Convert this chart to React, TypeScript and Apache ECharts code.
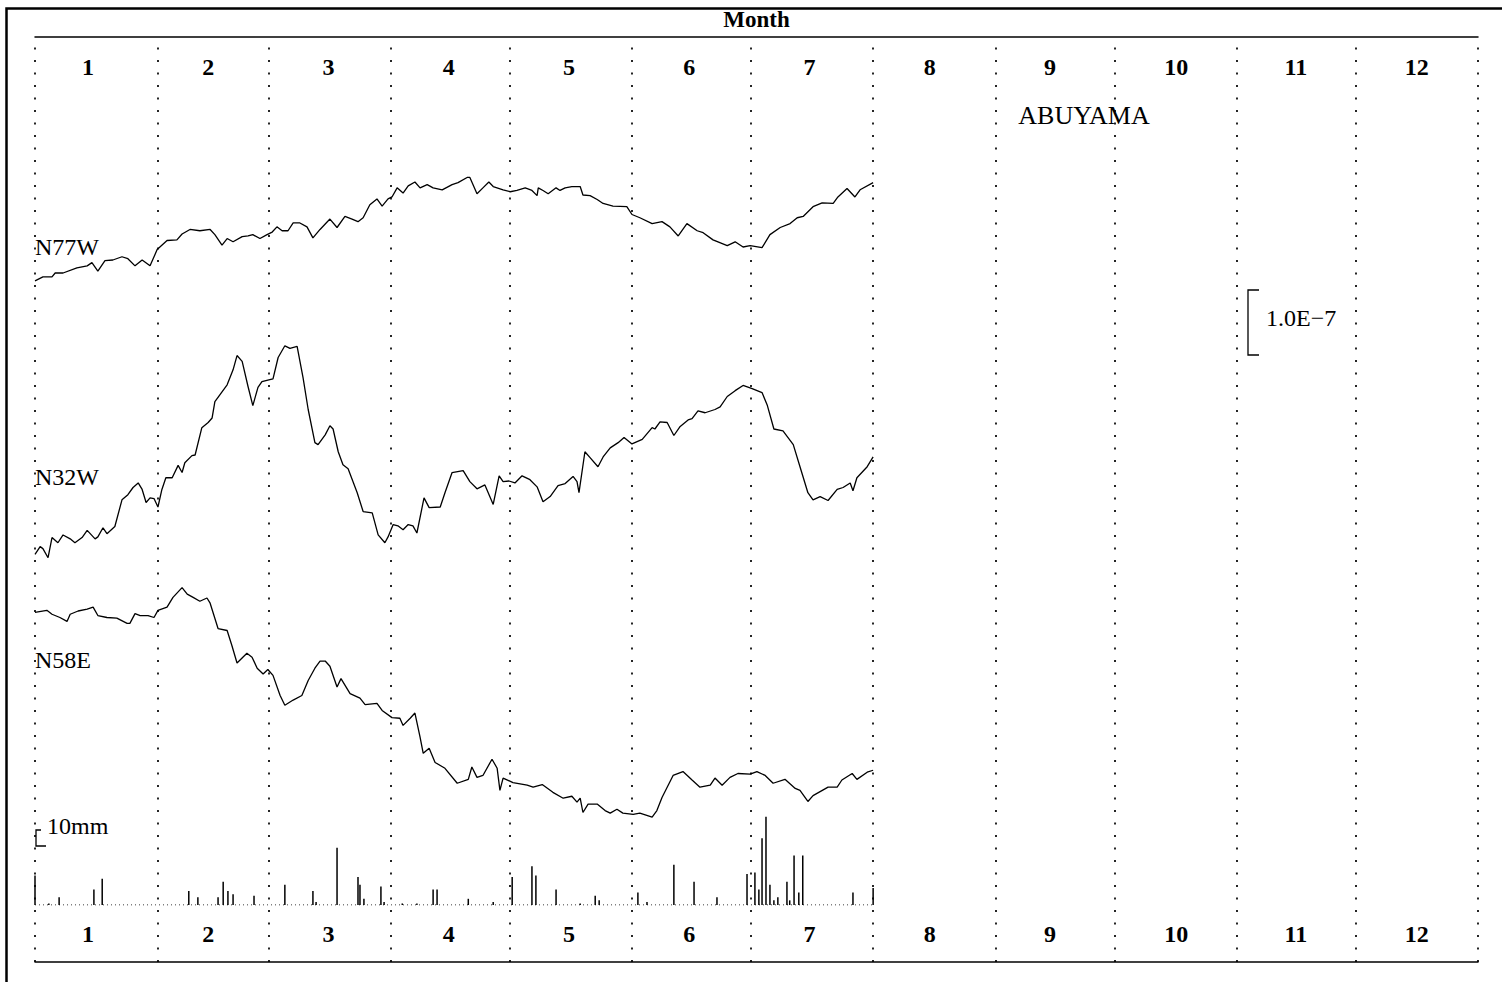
import React, { useEffect, useRef } from "react";
import * as echarts from "echarts";

// ---------- data ----------
const MONTH_BOUNDS = [0, 31, 59, 90, 120, 151, 181, 212, 243, 273, 304, 334, 365];
const MONTH_LABELS = ["1", "2", "3", "4", "5", "6", "7", "8", "9", "10", "11", "12"];

// strain traces, day of year vs relative strain (units of 1e-8)
const N77W_DAYS = [0, 2, 4.3, 5.1, 7.1, 10.6, 13.2, 14.4, 15.9, 17.7, 19.7, 22, 23.5, 25.3, 27.1, 29.1, 30.9, 33.4, 35.9, 37.2, 39.2, 41.7, 44.3, 45.5, 47.3, 48.6, 50.1, 52.4, 53.9, 55.1, 56.9, 58.7, 60, 61.2, 62.5, 64, 65.3, 67, 68.8, 70.3, 72.1, 74.6, 76.4, 78.4, 80.2, 81.7, 83, 84.7, 86.5, 87.8, 89.3, 90.3, 91.6, 93.1, 94.4, 96.1, 97.4, 99.2, 100.7, 103, 105.5, 107, 109.3, 110, 111.8, 113.3, 114.8, 115.9, 118.4, 120.2, 121.9, 124, 125.7, 127, 127.3, 128.5, 129.8, 131.8, 132.8, 134.1, 135.8, 137.9, 138.6, 140.4, 142.2, 143.7, 146.2, 149.7, 151, 153, 156.1, 158.6, 160.6, 162.7, 164.9, 167.5, 169, 171.5, 175.1, 177.1, 179.1, 180.9, 183.9, 185.9, 188.5, 191, 192.8, 194.3, 196.8, 199.1, 201.9, 203.1, 205.4, 207.4, 208.7, 212];
const N77W_VALUES = [0.3, 0.9, 0.9, 1.5, 1.5, 2.3, 2.6, 3.1, 1.8, 3.4, 3.5, 4.0, 3.7, 2.6, 3.5, 2.6, 5.1, 6.5, 6.6, 7.5, 8.2, 8.0, 8.2, 7.4, 5.8, 6.8, 6.3, 7.1, 7.2, 7.4, 6.8, 7.4, 7.8, 8.6, 8.0, 8.0, 9.2, 9.2, 8.6, 6.9, 8.2, 9.8, 8.5, 10.2, 9.8, 9.4, 10.0, 12.0, 12.9, 11.8, 12.9, 13.2, 14.6, 13.8, 14.9, 15.5, 14.6, 15.1, 14.6, 14.3, 15.1, 15.4, 16.2, 16.2, 13.7, 14.6, 15.5, 14.8, 14.3, 14.0, 14.2, 14.6, 14.2, 13.4, 14.6, 14.2, 13.7, 14.6, 14.2, 14.6, 14.8, 14.8, 13.5, 13.4, 12.8, 12.2, 11.8, 11.7, 10.5, 10.0, 9.1, 9.4, 8.6, 7.2, 9.1, 8.0, 7.7, 6.6, 5.7, 6.3, 5.5, 5.7, 5.4, 7.4, 8.5, 9.1, 10.0, 10.2, 11.7, 12.3, 12.2, 13.2, 14.5, 13.2, 14.3, 15.4];

const N32W_DAYS = [0, 1.3, 2, 3.3, 4.3, 5.8, 7.1, 8.9, 10.1, 11.9, 13.2, 15.2, 15.9, 17.2, 18.2, 20.2, 22, 23.5, 24.8, 26.1, 27.1, 28.1, 29.1, 30.1, 31.1, 32.1, 33.1, 34.7, 36.2, 37.2, 37.9, 39.7, 40.5, 42.2, 43.8, 44.8, 45.5, 46.8, 48.6, 50.1, 51.1, 52.4, 53.9, 55.1, 56.4, 57.4, 59.4, 60.2, 61.5, 63.2, 64.5, 66.3, 67.8, 69.1, 70.8, 71.6, 73.4, 74.6, 75.4, 76.7, 77.9, 79.2, 81.5, 83, 85.3, 86.8, 88.5, 89.3, 90.6, 91.8, 93.1, 94.4, 95.6, 96.6, 98.4, 99.7, 102.5, 103.7, 105.5, 108.3, 110, 111.8, 113.8, 115.9, 117.4, 118.4, 119.9, 121.4, 123.2, 125.2, 127, 128.5, 130.3, 132.3, 134.1, 136.1, 137.1, 137.6, 139.1, 140.4, 142.4, 143.7, 145.5, 147.5, 149, 151, 153.6, 156.1, 156.8, 158.1, 159.9, 161.6, 163.2, 165.2, 166.2, 167.7, 169.5, 172, 173.3, 175.1, 177.1, 179.1, 181.4, 183.9, 185.2, 186.9, 189.2, 191.8, 193.5, 195.5, 196.8, 198.6, 200.6, 202.9, 204.4, 206.2, 206.9, 207.9, 210.5, 212];
const N32W_VALUES = [0.5, 1.7, 1.4, 0.0, 3.1, 2.3, 3.5, 2.9, 2.3, 3.1, 4.2, 2.9, 3.2, 4.6, 3.7, 4.8, 8.9, 9.7, 10.8, 11.5, 10.5, 8.5, 9.2, 9.1, 7.8, 10.5, 12.3, 12.3, 14.2, 13.1, 14.6, 15.7, 15.8, 20.0, 20.8, 21.5, 24.0, 25.1, 26.6, 28.9, 31.1, 30.2, 26.3, 23.4, 26.2, 27.1, 27.4, 27.5, 30.8, 32.6, 32.2, 32.5, 27.7, 22.8, 17.7, 17.4, 18.9, 20.3, 19.8, 16.3, 14.3, 13.7, 10.0, 7.1, 6.9, 3.5, 2.3, 3.2, 5.1, 4.9, 4.3, 5.1, 4.9, 3.8, 9.2, 7.7, 7.8, 10.0, 13.1, 13.4, 11.7, 10.6, 11.2, 8.2, 12.6, 11.7, 11.8, 11.5, 12.6, 12.0, 10.9, 8.6, 9.4, 11.1, 11.4, 12.5, 11.7, 10.0, 16.3, 15.4, 14.0, 15.5, 16.9, 17.7, 18.5, 17.5, 18.2, 20.0, 19.8, 20.9, 20.8, 18.8, 20.2, 21.2, 21.4, 22.6, 22.3, 22.8, 23.2, 24.8, 25.7, 26.5, 26.0, 25.4, 23.5, 19.8, 19.5, 17.4, 14.0, 10.0, 8.9, 9.4, 8.8, 10.5, 10.8, 11.5, 10.3, 12.3, 14.0, 15.5];

const N58E_DAYS = [0, 3, 4.3, 6.3, 8.1, 8.9, 10.9, 13.2, 14.7, 15.9, 18.2, 20.7, 23.3, 24, 25.3, 26.6, 28.6, 30.1, 31.1, 33.4, 34.9, 37.2, 38.5, 40, 41.7, 43.5, 44.3, 46.3, 48.6, 49.8, 51.1, 53.6, 54.9, 56.2, 57.7, 58.9, 60.2, 62, 63.2, 65.3, 67.5, 69.1, 70.8, 72.1, 73.4, 74.6, 76.4, 77.4, 79.7, 82.2, 83.5, 86.5, 87.8, 90.3, 92.3, 93.1, 94.9, 96.1, 97.4, 98.2, 99.7, 101.2, 103.7, 106.8, 109.6, 110.5, 111.8, 113.3, 115.6, 116.9, 117.6, 118.4, 120.9, 124.5, 126, 128.3, 131, 133.6, 135.8, 137.1, 137.9, 138.6, 139.9, 142.2, 144.2, 145.5, 147.2, 148.7, 151.3, 153, 156.1, 157.3, 158.6, 161.4, 163.9, 166.2, 168.2, 170.8, 172, 173.8, 175.8, 177.8, 180.9, 182.6, 184.7, 186.7, 189.7, 192.3, 193.5, 195.5, 196.8, 200.6, 202.9, 204.1, 206.7, 207.9, 210.5, 212];
const N58E_VALUES = [32.0, 32.3, 31.7, 31.2, 30.6, 31.7, 32.2, 32.5, 32.8, 31.5, 31.2, 31.1, 30.3, 30.3, 31.8, 31.5, 31.5, 31.2, 32.3, 32.8, 34.3, 35.8, 34.8, 34.3, 33.7, 34.2, 33.4, 29.5, 29.2, 26.9, 24.2, 25.7, 25.1, 23.4, 22.5, 23.2, 22.3, 19.2, 17.7, 18.5, 19.2, 21.5, 23.4, 24.5, 24.5, 23.7, 20.5, 21.8, 19.5, 18.8, 17.8, 18.0, 16.9, 15.8, 15.7, 14.6, 15.7, 16.5, 12.8, 10.3, 11.1, 8.9, 8.0, 5.7, 6.3, 8.2, 6.6, 6.9, 9.4, 8.0, 4.6, 6.5, 5.8, 5.4, 5.1, 5.5, 4.3, 3.4, 3.7, 2.8, 3.4, 1.2, 2.5, 2.5, 1.5, 1.1, 1.7, 1.1, 0.9, 1.1, 0.5, 1.5, 3.5, 6.9, 7.5, 6.2, 5.1, 5.4, 6.5, 5.4, 6.6, 7.2, 7.1, 7.5, 6.9, 5.7, 6.3, 4.9, 4.6, 2.9, 3.8, 5.1, 5.1, 6.2, 7.2, 6.3, 7.4, 7.7];

// daily precipitation (mm)
const RAIN_DAYS = [0, 3.5, 6.1, 14.9, 17, 38.9, 41.2, 46.3, 47.6, 48.8, 50.1, 55.4, 63.2, 70.3, 71.1, 76.4, 81.7, 82.2, 83.2, 87.5, 88.3, 92.9, 96.6, 100.7, 101.7, 109.6, 115.9, 120.7, 125.7, 126.7, 131.8, 137.9, 141.7, 142.7, 152.5, 154.8, 161.6, 166.7, 172.5, 180.1, 182.1, 183.1, 183.9, 184.9, 185.9, 186.9, 187.9, 190.2, 190.9, 192, 193.2, 194.2, 206.9, 212];
const RAIN_MM = [19, 1, 5, 10, 17, 9, 5, 5, 15, 9, 7, 6, 13, 9, 2, 37, 18, 13, 4, 12, 2, 1, 1, 10, 10, 4, 2, 18, 25, 19, 10, 1, 6, 3, 8, 2, 26, 15, 5, 20, 21, 10, 43, 57, 13, 3, 5, 15, 3, 32, 8, 32, 8, 11];
const RAIN_END_DAY = 212;

// ---------- layout ----------
const W = 1502;
const H = 982;
const SERIF = '"Liberation Serif", "DejaVu Serif", serif';
const GRID_LEFT = 35;
const GRID_RIGHT = 24;
const GRID_TOP = 37;
const GRID_BOTTOM = 20;
const PLOT_H = H - GRID_TOP - GRID_BOTTOM;
const PX_PER_UNIT = 6.5; // 1e-8 strain per 6.5 px (1.0E-7 bar = 65 px)
const TRACE_BASE: Record<string, number> = { N77W: 104.5, N32W: 62.2, N58E: 21.8 };
const RAIN_BASE_Y = 905;
const PX_PER_MM = 1.55;
const RAIN_MAX = 60;

const LABEL_DAYS = MONTH_LABELS.map((_, i) => (i * 365) / 12 + 11.9);

function monthFormatter(v: number) {
  const i = LABEL_DAYS.findIndex((d) => Math.abs(d - v) < 0.01);
  return i >= 0 ? MONTH_LABELS[i] : "";
}

function pairs(days: number[], vals: number[], base = 0) {
  return days.map((d, i) => [d, vals[i] + base]);
}

function monthAxis(position: "top" | "bottom", margin: number, withName: boolean) {
  const ax: any = {
    gridIndex: 0,
    type: "value",
    min: 0,
    max: 365,
    position,
    axisLine: { show: true, onZero: false, lineStyle: { color: "#000", width: 1.5 } },
    axisTick: { show: false },
    splitLine: { show: false },
    axisLabel: {
      customValues: LABEL_DAYS,
      formatter: monthFormatter,
      inside: true,
      margin,
      align: "left",
      fontFamily: SERIF,
      fontSize: 24,
      fontWeight: "bold",
      color: "#000",
    },
  };
  if (withName) {
    ax.name = "Month";
    ax.nameLocation = "middle";
    ax.nameGap = 6;
    ax.nameTextStyle = { fontFamily: SERIF, fontSize: 23, fontWeight: "bold", color: "#000" };
  }
  return ax;
}

function traceSeries(name: string, days: number[], vals: number[], extra: any = {}) {
  return {
    type: "line",
    name,
    xAxisIndex: 0,
    yAxisIndex: 0,
    data: pairs(days, vals, TRACE_BASE[name]),
    symbol: "none",
    showSymbol: false,
    lineStyle: { color: "#000", width: 1.3 },
    silent: true,
    ...extra,
  };
}

function text(t: string, x: number, y: number, size: number, align = "left") {
  return {
    type: "text",
    x,
    y,
    silent: true,
    style: { text: t, fontFamily: SERIF, fontSize: size, fill: "#000", align, verticalAlign: "middle" },
  };
}

export default function App() {
  const ref = useRef<HTMLDivElement>(null);
  useEffect(() => {
    document.body.style.margin = "0";
    const chart = echarts.init(ref.current!, null, { renderer: "svg" });
    const rainHeight = RAIN_MAX * PX_PER_MM;
    const option: any = {
      animation: false,
      backgroundColor: "#fff",
      grid: [
        { left: GRID_LEFT, right: GRID_RIGHT, top: GRID_TOP, bottom: GRID_BOTTOM },
        { left: GRID_LEFT, right: GRID_RIGHT, top: RAIN_BASE_Y - rainHeight, bottom: H - RAIN_BASE_Y },
      ],
      xAxis: [
        monthAxis("top", 18, true),
        monthAxis("bottom", 16, false),
        { gridIndex: 1, type: "value", min: 0, max: 365, show: false },
      ],
      yAxis: [
        { gridIndex: 0, type: "value", min: 0, max: PLOT_H / PX_PER_UNIT, show: false },
        { gridIndex: 1, type: "value", min: 0, max: RAIN_MAX, show: false },
      ],
      series: [
        traceSeries("N77W", N77W_DAYS, N77W_VALUES, {
          markLine: {
            silent: true,
            symbol: ["none", "none"],
            label: { show: false },
            lineStyle: { color: "#000", type: [2, 10.5], width: 1.7 },
            data: MONTH_BOUNDS.map((d) => ({ xAxis: d })),
          },
        }),
        traceSeries("N32W", N32W_DAYS, N32W_VALUES),
        traceSeries("N58E", N58E_DAYS, N58E_VALUES),
        {
          type: "line",
          name: "rain-baseline",
          xAxisIndex: 2,
          yAxisIndex: 1,
          data: [
            [0, 0],
            [RAIN_END_DAY, 0],
          ],
          symbol: "none",
          lineStyle: { color: "#000", width: 1, type: [1, 3] },
          silent: true,
        },
        {
          type: "bar",
          name: "Precipitation",
          xAxisIndex: 2,
          yAxisIndex: 1,
          data: pairs(RAIN_DAYS, RAIN_MM),
          barWidth: 1.5,
          itemStyle: { color: "#000" },
          silent: true,
        },
      ],
      graphic: [
        {
          type: "rect",
          silent: true,
          shape: { x: 6.5, y: 8.5, width: 1700, height: 1200 },
          style: { fill: "none", stroke: "#000", lineWidth: 2.5 },
        },
        text("N77W", 35, 247, 24),
        text("N32W", 35, 477, 24),
        text("N58E", 35, 660, 24),
        text("ABUYAMA", 1084, 115, 26, "center"),
        text("1.0E\u22127", 1266, 318, 24),
        text("10mm", 47, 826, 24),
        {
          type: "polyline",
          silent: true,
          shape: { points: [[1259, 290], [1248, 290], [1248, 355], [1259, 355]] },
          style: { fill: "none", stroke: "#000", lineWidth: 1.3 },
        },
        {
          type: "polyline",
          silent: true,
          shape: { points: [[41, 830], [36, 830], [36, 846], [46, 846]] },
          style: { fill: "none", stroke: "#000", lineWidth: 1.3 },
        },
      ],
    };
    chart.setOption(option);
    return () => chart.dispose();
  }, []);
  return <div ref={ref} style={{ width: W, height: H }} />;
}
